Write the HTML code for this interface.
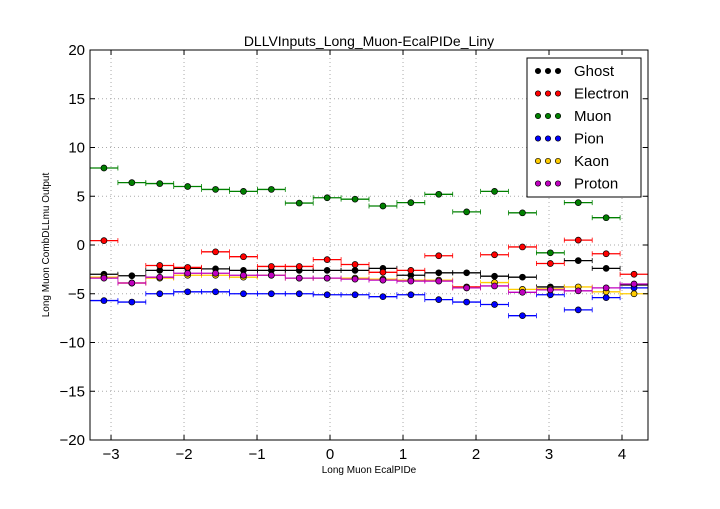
<!DOCTYPE html>
<html><head><meta charset="utf-8"><style>
body{margin:0;background:#fff;font-family:"Liberation Sans",sans-serif}
svg text{font-family:"Liberation Sans",sans-serif}
</style></head><body>
<svg id="c" width="720" height="504"></svg>
<script>
const categories = ["Ghost","Electron","Muon","Pion","Kaon","Proton"];
const colors = ["#000000","#ff0000","#008000","#0000ff","#ffcc00","#bf00bf"];
const binLow = -3.288, binHigh = 4.356, nBins = 20;
const ghost = [-3.0,-3.15,-2.6,-2.4,-2.45,-2.6,-2.6,-2.6,-2.6,-2.6,-2.4,-3.1,-2.85,-2.85,-3.2,-3.3,-4.3,-1.6,-2.4,-4.1];
const electron = [0.45,-3.9,-2.1,-2.3,-0.7,-1.2,-2.2,-2.2,-1.5,-2.0,-2.8,-2.6,-1.1,-4.3,-1.0,-0.2,-1.9,0.5,-0.9,-3.0];
const muon = [7.9,6.4,6.3,6.0,5.7,5.5,5.7,4.3,4.85,4.7,4.0,4.35,5.2,3.4,5.5,3.3,-0.8,4.35,2.8,null];
const pion = [-5.7,-5.85,-5.0,-4.8,-4.8,-5.0,-5.0,-5.0,-5.1,-5.1,-5.3,-5.1,-5.6,-5.85,-6.1,-7.25,-5.1,-6.65,-5.4,-4.4];
const kaon = [-3.3,-3.9,-3.4,-3.1,-3.1,-3.3,-3.1,-3.4,-3.4,-3.4,-3.5,-3.6,-3.6,-4.4,-3.85,-4.55,-4.5,-4.3,-4.8,-5.0];
const proton = [-3.4,-3.9,-3.3,-2.9,-2.9,-3.1,-3.1,-3.4,-3.4,-3.5,-3.6,-3.7,-3.7,-4.4,-4.2,-4.85,-4.6,-4.7,-4.4,-4.0];
const series = [ghost,electron,muon,pion,kaon,proton];
const xTicks = [-3,-2,-1,0,1,2,3,4];
const yTicks = [-20,-15,-10,-5,0,5,10,15,20];

const L=90,R=648,T=50,B=440;
const xs=v=>L+(v-binLow)/(binHigh-binLow)*(R-L);
const ys=v=>T+(20-v)/40*(B-T);
const svg=document.getElementById('c');
const NS='http://www.w3.org/2000/svg';
function mk(tag,at,parent){const e=document.createElementNS(NS,tag);for(const k in at)e.setAttribute(k,at[k]);(parent||svg).appendChild(e);return e;}

const grid=mk('g',{});


xTicks.forEach(t=>{mk('line',{x1:xs(t),x2:xs(t),y1:T,y2:B,stroke:'#aaa','stroke-dasharray':'1,3'},grid);});
yTicks.forEach(t=>{mk('line',{x1:L,x2:R,y1:ys(t),y2:ys(t),stroke:'#aaa','stroke-dasharray':'1,3'},grid);});

const w=(binHigh-binLow)/nBins;
series.forEach((vals,si)=>{
  const g=mk('g',{});
  
  
  vals.forEach((v,i)=>{
    if(v===null) return;
    const x0=xs(binLow+i*w),x1=xs(binLow+(i+1)*w),xc=xs(binLow+(i+0.5)*w),y=ys(v);
    mk('line',{x1:x0,x2:x1,y1:y,y2:y,stroke:colors[si],'stroke-width':1.3},g);
    mk('line',{x1:x0,x2:x0,y1:y-2.5,y2:y+2.5,stroke:colors[si],'stroke-width':0.8},g);
    mk('line',{x1:x1,x2:x1,y1:y-2.5,y2:y+2.5,stroke:colors[si],'stroke-width':0.8},g);
    const c=mk('circle',{cx:xc,cy:y,r:3,fill:colors[si],stroke:'#000','stroke-width':0.7},g);
    
    
  });
});

const frame=mk('rect',{x:L,y:T,width:R-L,height:B-T,fill:'none',stroke:'#000','stroke-width':1});



const xa=mk('g',{});


xTicks.forEach(t=>{
  mk('line',{x1:xs(t),x2:xs(t),y1:B,y2:B-5,stroke:'#000'},xa);
  mk('line',{x1:xs(t),x2:xs(t),y1:T,y2:T+5,stroke:'#000'},xa);
  const tx=mk('text',{x:xs(t),y:B+19,'text-anchor':'middle','font-size':15},xa);
  tx.textContent=(t<0?'\u2212'+(-t):t);
});
const ya=mk('g',{});


yTicks.forEach(t=>{
  mk('line',{x1:L,x2:L+5,y1:ys(t),y2:ys(t),stroke:'#000'},ya);
  mk('line',{x1:R,x2:R-5,y1:ys(t),y2:ys(t),stroke:'#000'},ya);
  const tx=mk('text',{x:L-5,y:ys(t)+5,'text-anchor':'end','font-size':15},ya);
  tx.textContent=(t<0?'\u2212'+(-t):t);
});

const title=mk('text',{x:(L+R)/2,y:T-4,'text-anchor':'middle','font-size':14});
title.textContent='DLLVInputs_Long_Muon-EcalPIDe_Liny';


const xl=mk('text',{x:(L+R)/2,y:473,'text-anchor':'middle','font-size':10});
xl.textContent='Long Muon EcalPIDe';


const yl=mk('text',{x:0,y:0,'text-anchor':'middle','font-size':10,transform:'translate(49,245) rotate(-90)'});
yl.textContent='Long Muon CombDLLmu Output';



const lg=mk('g',{});


mk('rect',{x:527,y:58,width:114,height:139,fill:'#fff',stroke:'#000'},lg);
categories.forEach((n,i)=>{
  const yy=71+i*22.5;
  const e=mk('g',{},lg);
  
  
  [538,548,558].forEach(cx=>mk('circle',{cx:cx,cy:yy,r:2.7,fill:colors[i],stroke:'#000','stroke-width':0.7},e));
  const t=mk('text',{x:574,y:yy+5,'font-size':15},e);
  t.textContent=n;
});
</script>
</body></html>
